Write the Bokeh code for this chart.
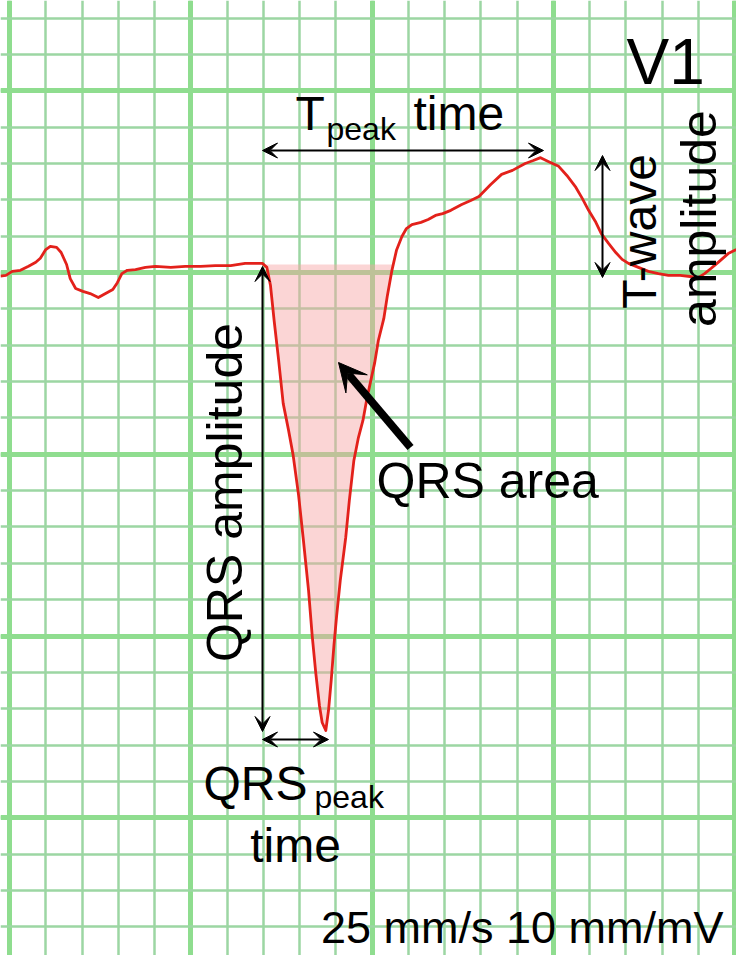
import numpy as np
from bokeh.plotting import figure
from bokeh.models import Range1d, SingleIntervalTicker, Label, Arrow, VeeHead
from bokeh.embed import file_html
from bokeh.resources import INLINE

# ECG lead V1 trace: time (ms) and amplitude (mV)
time_ms = [-10, -4, 3, 12, 21, 29, 34, 40, 45, 52, 57, 63, 67, 73, 81, 89, 98, 106, 114, 119, 124,
           130, 139, 150, 161, 178, 194, 211, 227, 244, 260, 271, 279,
           284, 288, 292, 297, 302, 308, 313, 319, 324, 330, 334, 338, 342, 345, 349,
           352, 355, 358, 361, 365, 371, 375, 380, 385, 390, 394, 398, 403, 407, 413, 417, 422,
           427, 433, 438,
           444, 454, 462, 470, 478, 487, 499, 509, 518, 531, 543, 555, 569, 578, 586, 595,
           606, 615, 625, 632, 639, 647, 653, 661, 669, 676, 683, 694, 705, 716, 727, 740,
           751, 760, 767, 774, 782, 793, 802]
amp_mv = [-0.010, -0.008, 0.003, 0.006, 0.017, 0.028, 0.039, 0.063, 0.072, 0.069, 0.055, 0.022, -0.017,
          -0.044, -0.052, -0.058, -0.069, -0.058, -0.047, -0.028, -0.003,
          0.006, 0.008, 0.014, 0.017, 0.014, 0.017, 0.017, 0.019, 0.019, 0.025, 0.025, 0.025,
          0.014, -0.036, -0.132, -0.242, -0.360, -0.435, -0.503, -0.613, -0.729, -0.875, -0.999,
          -1.103, -1.191, -1.238, -1.260,
          -1.205, -1.122, -1.026, -0.944, -0.847, -0.729, -0.627, -0.517, -0.454, -0.407, -0.352,
          -0.305, -0.248, -0.187, -0.127, -0.063, 0.006,
          0.061, 0.099, 0.121,
          0.132, 0.138, 0.146, 0.157, 0.162, 0.171, 0.187, 0.198, 0.209, 0.242, 0.270, 0.281,
          0.300, 0.308, 0.316, 0.305, 0.292, 0.267, 0.234, 0.204, 0.171, 0.138, 0.107, 0.080,
          0.055, 0.036, 0.025, 0.014, 0.003, -0.003, -0.008, -0.008, -0.011, -0.014, -0.003,
          0.011, 0.028, 0.052, 0.063]

# QRS area window (ms) and its isoelectric level (mV)
qrs_window_ms = [283, 430]
qrs_level_mv = 0.022

SPEED = 25   # mm/s
GAIN = 10    # mm/mV

x_mm = np.array(time_ms) * SPEED / 1000.0
y_mm = np.array(amp_mv) * GAIN

# layout helpers: reference picture pixels -> paper mm
def X(px):
    return (px - 9) / 36.25

def Y(py):
    return (272 - py) / 36.35

FONT = "Liberation Sans"
W, H = 736, 955

p = figure(width=W, height=H, x_range=Range1d(X(0), X(W)), y_range=Range1d(Y(H), Y(0)),
           output_backend="svg", toolbar_location=None, min_border=0,
           outline_line_color=None, background_fill_color="white", border_fill_color="white")
p.axis.visible = False
for g in (p.xgrid, p.ygrid):
    g.ticker = SingleIntervalTicker(interval=5, num_minor_ticks=5)
    g.grid_line_color = "#8fdd8f"
    g.grid_line_width = 5
    g.minor_grid_line_color = "#9cd6a3"
    g.minor_grid_line_width = 2.5

# QRS area fill
t = np.array(time_ms, dtype=float)
a = np.array(amp_mv, dtype=float)
fine_t = np.linspace(qrs_window_ms[0], qrs_window_ms[1], 400)
fine_a = np.minimum(np.interp(fine_t, t, a), qrs_level_mv)
px_ = np.concatenate([fine_t, fine_t[::-1][:1], fine_t[:1]]) * SPEED / 1000.0
py_ = np.concatenate([fine_a, [qrs_level_mv], [qrs_level_mv]]) * GAIN
p.patch(px_, py_, fill_color="#f6a4a4", fill_alpha=0.46, line_color=None)

p.line(x_mm, y_mm, line_color="#e3211b", line_width=2.8, line_join="round")

def arrow(x0, y0, x1, y1, both=True, size=15, lw=2):
    p.add_layout(Arrow(x_start=X(x0), y_start=Y(y0), x_end=X(x1), y_end=Y(y1),
                       line_width=lw, line_color="black",
                       start=VeeHead(size=size, fill_color="black", line_color="black", line_width=1) if both else None,
                       end=VeeHead(size=size, fill_color="black", line_color="black", line_width=1)))

arrow(262, 150, 543, 150)
arrow(602, 155, 602, 277)
arrow(262, 266, 262, 731)
arrow(262, 739, 328, 739)
arrow(410, 447, 338, 362, both=False, size=28, lw=8)

def label(x, y, text, size, align="left", angle=0.0):
    # (x, y): baseline anchor in reference pixels; compensate renderer baseline offset
    d = 0.36 * size
    if angle == 0.0:
        y = y - d
    else:
        x = x - d
    p.add_layout(Label(x=X(x), y=Y(y), text=text, text_font=FONT, text_font_size=f"{size}px",
                       text_color="black", text_align=align, text_baseline="alphabetic",
                       angle=angle))

label(626, 85, "V1", 64)
label(295, 130, "T", 48)
label(326, 140, "peak", 32)
label(413, 130, "time", 48)
label(376, 498, "QRS area", 50)
label(203, 800, "QRS", 48)
label(314, 808, "peak", 32)
label(295, 862, "time", 48, align="center")
label(242, 492, "QRS amplitude", 50, align="center", angle=np.pi / 2)
label(656, 231, "T-wave", 48, align="center", angle=np.pi / 2)
label(716, 218, "amplitude", 50, align="center", angle=np.pi / 2)
label(723, 943, "25 mm/s 10 mm/mV", 45, align="right")

open("out.html", "w").write(file_html(p, INLINE))
